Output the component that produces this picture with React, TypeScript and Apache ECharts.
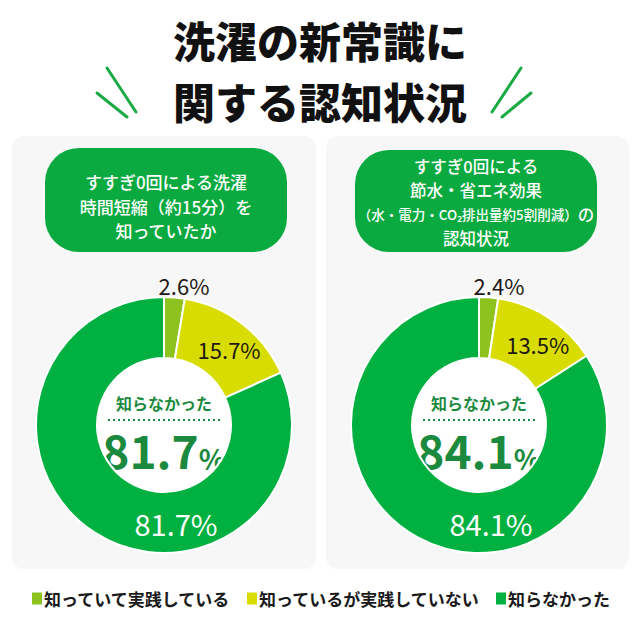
import React, { useEffect, useRef } from "react";
import * as echarts from "echarts";

const categories = ["知っていて実践している", "知っているが実践していない", "知らなかった"];
const timeValues = [2.6, 15.7, 81.7];
const ecoValues = [2.4, 13.5, 84.1];
const sliceColors = ["#8dc21f", "#d9dc00", "#00b040"];
const centerCaption = "知らなかった";
const titleLines = ["洗濯の新常識に", "関する認知状況"];
const headerLeft = ["すすぎ0回による洗濯", "時間短縮（約15分）を", "知っていたか"];
const headerRight = ["すすぎ0回による", "節水・省エネ効果", "（水・電力・CO₂排出量約5割削減）", "の", "認知状況"];

const FONT = '"Noto Sans CJK JP", "Noto Sans", sans-serif';
const DARK_GREEN = "#1b8a3e";
const CY = 425;
const CX = [164, 479];
const R_IN = 67;
const R_OUT = 128;

function labelPos(values: number[], idx: number, cx: number) {
  if (idx === 0) return { x: cx + 20, y: CY - 140 };
  if (idx === 2) return { x: cx + 12, y: CY + 98 };
  const total = values.reduce((a, b) => a + b, 0);
  let before = 0;
  for (let i = 0; i < idx; i++) before += values[i];
  const mid = ((before + values[idx] / 2) / total) * 360 + 3;
  const rad = (mid * Math.PI) / 180;
  return { x: cx + 100 * Math.sin(rad), y: CY - 100 * Math.cos(rad) };
}

function pieSeries(values: number[], cx: number) {
  return {
    type: "pie",
    center: [cx, CY],
    radius: [R_IN, R_OUT],
    startAngle: 90,
    clockwise: true,
    silent: true,
    avoidLabelOverlap: false,
    itemStyle: { borderColor: "#ffffff", borderWidth: 2 },
    labelLine: { show: false },
    emphasis: { disabled: true },
    label: {
      show: true,
      position: "inside",
      fontFamily: FONT,
      formatter: (p: any) => `${Number(p.value).toFixed(1)}%`,
    },
    labelLayout: (p: any) => {
      const pos = labelPos(values, p.dataIndex, cx);
      return { x: pos.x, y: pos.y, align: "center", verticalAlign: "middle" };
    },
    data: values.map((v, i) => ({
      name: categories[i],
      value: v,
      itemStyle: { color: sliceColors[i] },
      label:
        i === 2
          ? { color: "#ffffff", fontSize: 29 }
          : { color: "#231815", fontSize: 22 },
    })),
  };
}

function centerGraphics(values: number[], cx: number) {
  const big = values[2].toFixed(1);
  return [
    { type: "circle", shape: { cx, cy: CY, r: R_IN }, style: { fill: "#ffffff" } },
    {
      type: "text",
      x: cx,
      y: CY - 22,
      style: {
        text: centerCaption,
        fill: DARK_GREEN,
        font: `bold 16px ${FONT}`,
        align: "center",
        verticalAlign: "middle",
      },
    },
    {
      type: "line",
      shape: { x1: cx - 56, y1: CY - 5, x2: cx + 56, y2: CY - 5 },
      style: { stroke: DARK_GREEN, lineWidth: 2, lineDash: [2, 3] },
    },
    {
      type: "text",
      x: cx,
      y: CY + 22,
      style: {
        text: `{a|${big}}{b|%}`,
        align: "center",
        verticalAlign: "middle",
        rich: {
          a: { fontSize: 46, fontWeight: "bold", fill: DARK_GREEN, fontFamily: FONT, lineHeight: 50, verticalAlign: "bottom" },
          b: { fontSize: 28, fontWeight: "bold", fill: DARK_GREEN, fontFamily: FONT, lineHeight: 38, verticalAlign: "bottom" },
        },
      },
    },
  ];
}

export default function App() {
  const ref = useRef<HTMLDivElement>(null);
  useEffect(() => {
    document.body.style.margin = "0";
    if (!ref.current) return;
    const chart = echarts.init(ref.current, undefined, { renderer: "svg" });
    const graphics: any[] = [
      { type: "rect", shape: { x: 12, y: 136, width: 304, height: 433, r: 12 }, style: { fill: "#f7f7f7" } },
      { type: "rect", shape: { x: 326, y: 136, width: 303, height: 433, r: 12 }, style: { fill: "#f7f7f7" } },
      { type: "rect", shape: { x: 45, y: 148, width: 242, height: 104, r: 34 }, style: { fill: "#0aaa40" } },
      { type: "rect", shape: { x: 355, y: 150, width: 242, height: 102, r: 34 }, style: { fill: "#0aaa40" } },
      {
        type: "text",
        x: 166,
        y: 206,
        style: {
          text: headerLeft.join("\n"),
          fill: "#ffffff",
          font: `500 17px ${FONT}`,
          lineHeight: 24.5,
          align: "center",
          verticalAlign: "middle",
        },
      },
      {
        type: "text",
        x: 476,
        y: 202,
        style: {
          text: `{n|${headerRight[0]}}\n{n|${headerRight[1]}}\n{s|${headerRight[2]}}{n|${headerRight[3]}}\n{n|${headerRight[4]}}`,
          align: "center",
          verticalAlign: "middle",
          rich: {
            s: { fontSize: 13.5, fontWeight: 500, fill: "#ffffff", fontFamily: FONT, lineHeight: 24 },
            n: { fontSize: 16.5, fontWeight: 500, fill: "#ffffff", fontFamily: FONT, lineHeight: 24 },
          },
        },
      },
      {
        type: "text", x: 320, y: 39,
        style: { text: titleLines[0], fill: "#111111", font: `900 42px ${FONT}`, align: "center", verticalAlign: "middle" },
      },
      {
        type: "text", x: 320, y: 100,
        style: { text: titleLines[1], fill: "#111111", font: `900 42px ${FONT}`, align: "center", verticalAlign: "middle" },
      },
      { type: "line", shape: { x1: 107, y1: 68, x2: 136, y2: 112 }, style: { stroke: "#1aaa44", lineWidth: 3, lineCap: "round" } },
      { type: "line", shape: { x1: 97, y1: 93, x2: 127, y2: 117 }, style: { stroke: "#1aaa44", lineWidth: 3, lineCap: "round" } },
      { type: "line", shape: { x1: 521, y1: 68, x2: 492, y2: 112 }, style: { stroke: "#1aaa44", lineWidth: 3, lineCap: "round" } },
      { type: "line", shape: { x1: 531, y1: 93, x2: 502, y2: 117 }, style: { stroke: "#1aaa44", lineWidth: 3, lineCap: "round" } },
      ...centerGraphics(timeValues, CX[0]),
      ...centerGraphics(ecoValues, CX[1]),
    ];
    chart.setOption({
      animation: false,
      backgroundColor: "#ffffff",
      textStyle: { fontFamily: FONT },
      legend: {
        data: categories,
        top: 585,
        left: "center",
        icon: "rect",
        itemWidth: 12,
        itemHeight: 14,
        itemGap: 14,
        selectedMode: false,
        textStyle: { fontSize: 17, fontWeight: "bold", color: "#1a1a1a", fontFamily: FONT, padding: [0, 0, 0, -4] },
      },
      graphic: graphics,
      series: [pieSeries(timeValues, CX[0]), pieSeries(ecoValues, CX[1])],
    });
    return () => chart.dispose();
  }, []);
  return <div ref={ref} style={{ width: 640, height: 640 }} />;
}
